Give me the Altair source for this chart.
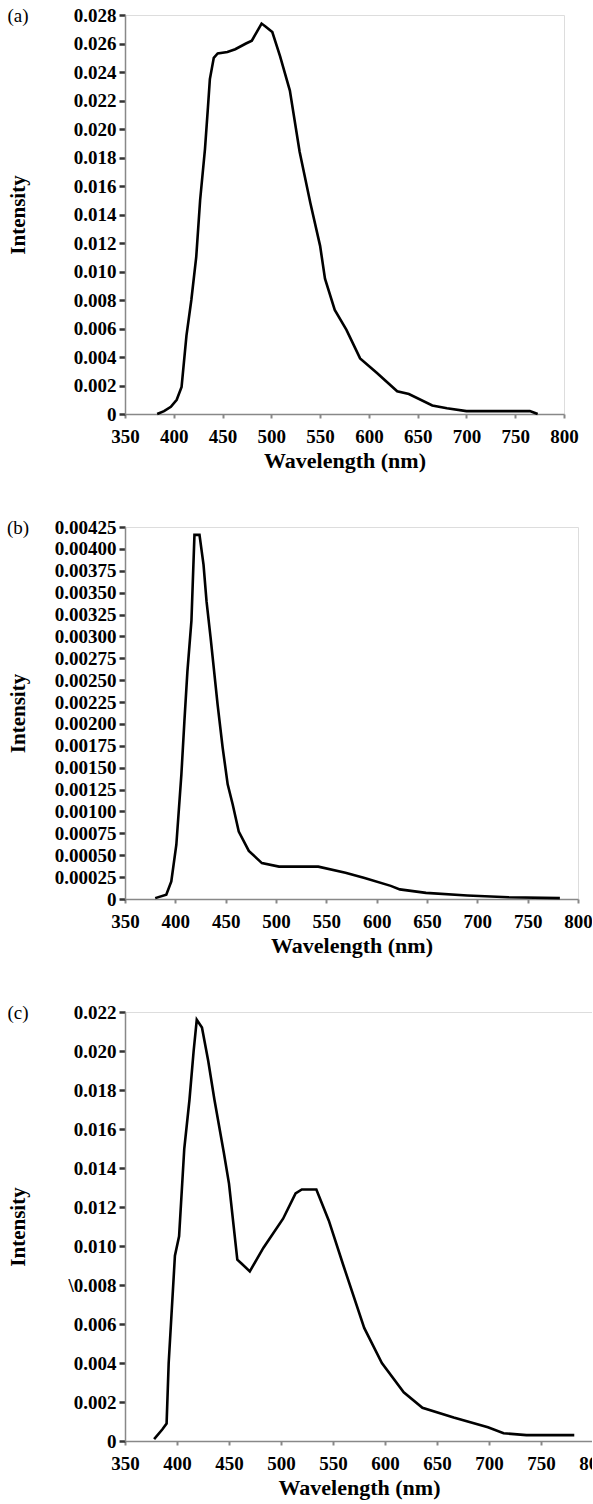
import altair as alt
import pandas as pd

# ---------------- data ----------------
wl_a = [383, 390, 397, 403, 408, 413, 418, 423, 427, 432, 435, 437, 441, 445, 455,
        463, 474, 480, 490, 494, 501, 509, 519, 529, 540, 550, 555, 565, 577, 591,
        608, 629, 641, 665, 680, 700, 765, 769, 773]
int_a = [0.0, 0.0002, 0.0005, 0.0010, 0.0019, 0.0055, 0.0080, 0.0110, 0.0150, 0.0186,
         0.0215, 0.0235, 0.0250, 0.0253, 0.0254, 0.0256, 0.0260, 0.0262, 0.0274, 0.0272,
         0.0268, 0.0251, 0.0227, 0.0184, 0.0148, 0.0118, 0.0095, 0.0073, 0.0059, 0.0039,
         0.0029, 0.0016, 0.0014, 0.0006, 0.0004, 0.0002, 0.0002, 0.0001, 0.0]

wl_b = [380, 391, 396, 401, 406, 409, 412, 416, 419, 424, 428, 431, 435, 442, 447,
        452, 457, 463, 473, 486, 503, 542, 569, 588, 614, 623, 649, 690, 731, 782]
int_b = [0.00001, 0.00005, 0.00020, 0.00062, 0.00142, 0.00203, 0.00260, 0.00318,
         0.00416, 0.00416, 0.00382, 0.00340, 0.00299, 0.00222, 0.00173, 0.00131,
         0.00108, 0.00077, 0.00055, 0.00041, 0.00037, 0.00037, 0.00030, 0.00024,
         0.00015, 0.00011, 0.00007, 0.00004, 0.00002, 0.00001]

wl_c = [378, 386, 390, 392, 398, 402, 407, 412, 416, 419, 424, 430, 436, 445, 450,
        458, 462, 470, 483, 502, 514, 520, 534, 546, 560, 580, 597, 618, 636, 666,
        699, 714, 736, 782]
int_c = [0.0001, 0.0006, 0.0009, 0.0040, 0.0095, 0.0105, 0.0150, 0.0175, 0.0200,
         0.0216, 0.0212, 0.0195, 0.0175, 0.0148, 0.0132, 0.0093, 0.0091, 0.0087,
         0.0099, 0.0114, 0.0127, 0.0129, 0.0129, 0.0113, 0.0090, 0.0058, 0.0040,
         0.0025, 0.0017, 0.0012, 0.0007, 0.0004, 0.0003, 0.0003]

x_ticks = [350, 400, 450, 500, 550, 600, 650, 700, 750, 800]
y_ticks_a = [0, 0.002, 0.004, 0.006, 0.008, 0.010, 0.012, 0.014, 0.016, 0.018,
             0.020, 0.022, 0.024, 0.026, 0.028]
y_ticks_b = [0, 0.00025, 0.0005, 0.00075, 0.001, 0.00125, 0.0015, 0.00175, 0.002,
             0.00225, 0.0025, 0.00275, 0.003, 0.00325, 0.0035, 0.00375, 0.004, 0.00425]
y_ticks_c = [0, 0.002, 0.004, 0.006, 0.008, 0.010, 0.012, 0.014, 0.016, 0.018,
             0.020, 0.022]

tags = ["(a)", "(b)", "(c)"]
x_title = "Wavelength (nm)"
y_title = "Intensity"

FONT = "Liberation Serif"
LBL = 19
TTL = 22


def panel(wl, inten, yticks, ymax, label_expr, w, h, tag):
    df = pd.DataFrame({"wl": wl, "inten": inten})
    line = alt.Chart(df).mark_line(color="black", strokeWidth=2.6).encode(
        x=alt.X("wl:Q",
                scale=alt.Scale(domain=[350, 800], nice=False, zero=False),
                axis=alt.Axis(values=x_ticks, title=x_title, format="d",
                              grid=False, domainColor="#888", domainWidth=1.5,
                              tickColor="#888", tickSize=4, tickWidth=2,
                              labelFont=FONT, labelFontSize=LBL, labelFontWeight="bold",
                              labelColor="black", labelPadding=9, labelFlush=False,
                              labelOverlap=False,
                              titleFont=FONT, titleFontSize=TTL, titleFontWeight="bold",
                              titleColor="black", titlePadding=4)),
        y=alt.Y("inten:Q",
                scale=alt.Scale(domain=[0, ymax], nice=False),
                axis=alt.Axis(values=yticks, title=y_title, labelExpr=label_expr,
                              grid=False, domainColor="#888", domainWidth=1.5,
                              tickColor="#333", tickSize=6, tickWidth=2.5,
                              labelFont=FONT, labelFontSize=LBL, labelFontWeight="bold",
                              labelColor="black", labelPadding=3, labelFlush=False,
                              labelOverlap=False,
                              titleFont=FONT, titleFontSize=TTL - 1, titleFontWeight="bold",
                              titleColor="black", titleX=-107, titleY=h / 2,
                              titleAlign="center", titleBaseline="middle")),
    )
    tag_df = pd.DataFrame({"t": [tag]})
    tag_text = alt.Chart(tag_df).mark_text(
        font=FONT, fontSize=19, color="black", align="center", baseline="middle"
    ).encode(text="t:N", x=alt.value(-107), y=alt.value(1))
    return alt.layer(line, tag_text).properties(width=w, height=h)


lab3 = "datum.value == 0 ? '0' : format(datum.value, '.3f')"
lab5 = "datum.value == 0 ? '0' : format(datum.value, '.5f')"
lab3c = ("datum.value == 0 ? '0' : (abs(datum.value - 0.008) < 1e-9 ? '\\\\0.008' : "
         "format(datum.value, '.3f'))")

pa = panel(wl_a, int_a, y_ticks_a, 0.028, lab3, 439, 399, tags[0])
pb = panel(wl_b, int_b, y_ticks_b, 0.00425, lab5, 453, 372, tags[1])
pc = panel(wl_c, int_c, y_ticks_c, 0.022, lab3c, 468, 429, tags[2])

chart = alt.vconcat(pa, pb, pc, spacing=45).properties(
    padding={"left": 6, "top": 5, "right": -16, "bottom": 2}
).configure_view(stroke="#888", strokeWidth=1.5).configure(background="white")

chart.save("out.html", embed_options={"renderer": "svg", "actions": False})
